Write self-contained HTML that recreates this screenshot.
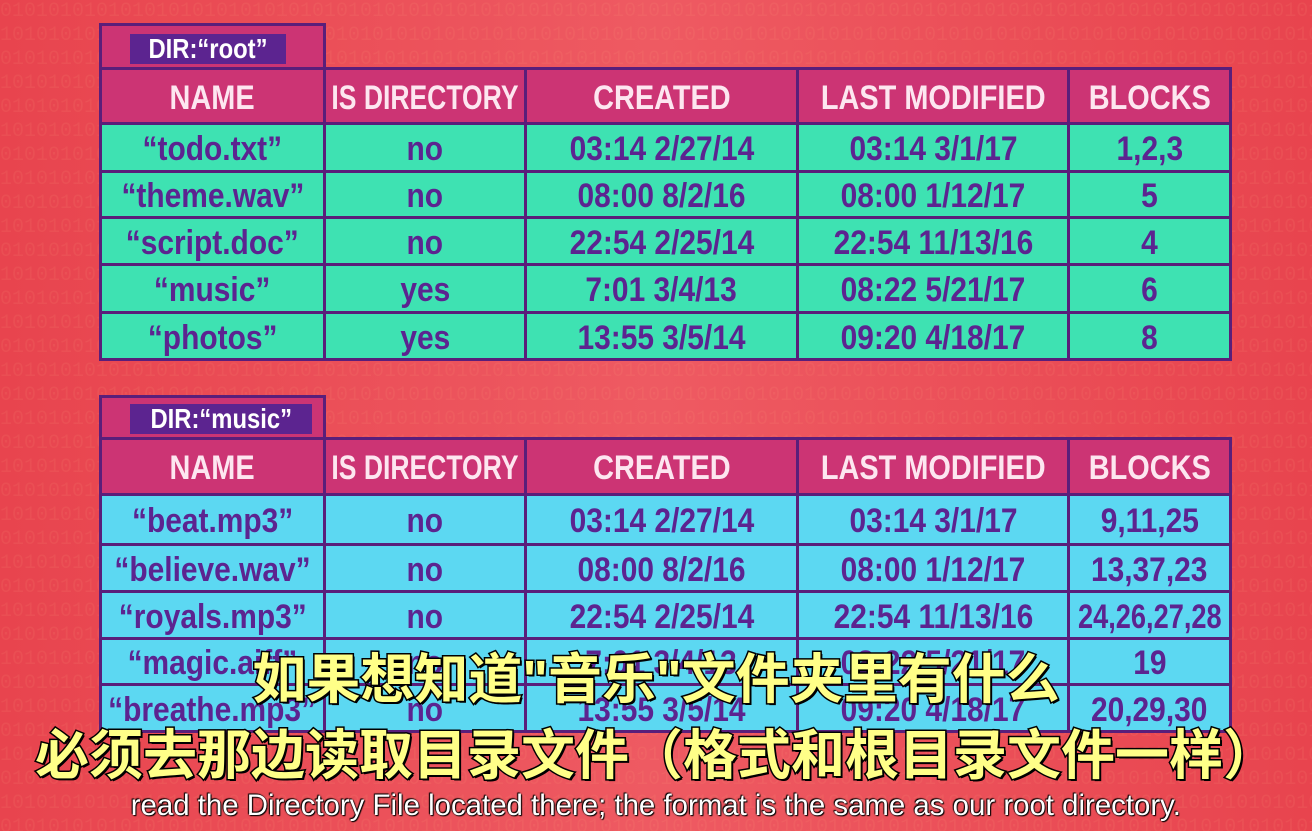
<!DOCTYPE html>
<html><head><meta charset="utf-8"><style>
body{margin:0;width:1312px;height:831px;overflow:hidden;background:linear-gradient(90deg,#e8444e 0%,#ee5a62 50%,#e8444e 100%);position:relative;font-family:"Liberation Sans",sans-serif}
.bg{position:absolute;left:0;top:0;width:1312px;height:831px;color:rgba(255,160,120,.12);font:20px "Liberation Mono",monospace;line-height:24px;white-space:pre;overflow:hidden}
.tab{position:absolute;background:#cc3474;border:3px solid #5a1e7a;box-sizing:border-box}
.tab span{position:absolute;left:28px;top:8px;background:#5c2490;color:#fff;font-weight:bold;font-size:28px;padding:0 8px;line-height:30px;white-space:nowrap}
table{position:absolute;left:99px;border-collapse:collapse;width:1130px;table-layout:fixed}
td,th{border:3px solid #5a1e7a;text-align:center;font-weight:bold;padding:4px 0 0;font-size:34px;color:#5c2490;white-space:nowrap;overflow:hidden}
td i,th i,.tab i{font-style:normal;display:inline-block;transform:scaleX(.85)}
td i,th i{margin:0 -80px}
td i{transform:scaleX(.88)}
th{background:#cc3474;color:#fde6f0}
.g td{background:#3ee2b2}
.b td{background:#5cd8f2}
.sub{position:absolute;left:0;width:1312px;text-align:center;font-family:"Liberation Sans","Noto Sans CJK SC",sans-serif;font-weight:bold;color:#ffff88;font-size:54px;line-height:60px;-webkit-text-stroke:3px #000;paint-order:stroke fill;text-shadow:2px 2px 0 #000;white-space:nowrap}
.en{position:absolute;left:0;width:1312px;text-align:center;top:789px;font-family:"Liberation Sans",sans-serif;font-size:30px;color:#fff;text-shadow:0 0 2px #000,1px 1px 1px #000,-1px -1px 1px #000;white-space:nowrap}
.en i{font-style:normal;display:inline-block;transform:scaleX(.98)}
</style></head><body>
<div class="bg">0101010101010101010101010101010101010101010101010101010101010101010101010101010101010101010101010101010101010101
1010101010101010101010101010101010101010101010101010101010101010101010101010101010101010101010101010101010101010
0101010101010101010101010101010101010101010101010101010101010101010101010101010101010101010101010101010101010101
1010101010101010101010101010101010101010101010101010101010101010101010101010101010101010101010101010101010101010
0101010101010101010101010101010101010101010101010101010101010101010101010101010101010101010101010101010101010101
1010101010101010101010101010101010101010101010101010101010101010101010101010101010101010101010101010101010101010
0101010101010101010101010101010101010101010101010101010101010101010101010101010101010101010101010101010101010101
1010101010101010101010101010101010101010101010101010101010101010101010101010101010101010101010101010101010101010
0101010101010101010101010101010101010101010101010101010101010101010101010101010101010101010101010101010101010101
1010101010101010101010101010101010101010101010101010101010101010101010101010101010101010101010101010101010101010
0101010101010101010101010101010101010101010101010101010101010101010101010101010101010101010101010101010101010101
1010101010101010101010101010101010101010101010101010101010101010101010101010101010101010101010101010101010101010
0101010101010101010101010101010101010101010101010101010101010101010101010101010101010101010101010101010101010101
1010101010101010101010101010101010101010101010101010101010101010101010101010101010101010101010101010101010101010
0101010101010101010101010101010101010101010101010101010101010101010101010101010101010101010101010101010101010101
1010101010101010101010101010101010101010101010101010101010101010101010101010101010101010101010101010101010101010
0101010101010101010101010101010101010101010101010101010101010101010101010101010101010101010101010101010101010101
1010101010101010101010101010101010101010101010101010101010101010101010101010101010101010101010101010101010101010
0101010101010101010101010101010101010101010101010101010101010101010101010101010101010101010101010101010101010101
1010101010101010101010101010101010101010101010101010101010101010101010101010101010101010101010101010101010101010
0101010101010101010101010101010101010101010101010101010101010101010101010101010101010101010101010101010101010101
1010101010101010101010101010101010101010101010101010101010101010101010101010101010101010101010101010101010101010
0101010101010101010101010101010101010101010101010101010101010101010101010101010101010101010101010101010101010101
1010101010101010101010101010101010101010101010101010101010101010101010101010101010101010101010101010101010101010
0101010101010101010101010101010101010101010101010101010101010101010101010101010101010101010101010101010101010101
1010101010101010101010101010101010101010101010101010101010101010101010101010101010101010101010101010101010101010
0101010101010101010101010101010101010101010101010101010101010101010101010101010101010101010101010101010101010101
1010101010101010101010101010101010101010101010101010101010101010101010101010101010101010101010101010101010101010
0101010101010101010101010101010101010101010101010101010101010101010101010101010101010101010101010101010101010101
1010101010101010101010101010101010101010101010101010101010101010101010101010101010101010101010101010101010101010
0101010101010101010101010101010101010101010101010101010101010101010101010101010101010101010101010101010101010101
1010101010101010101010101010101010101010101010101010101010101010101010101010101010101010101010101010101010101010
0101010101010101010101010101010101010101010101010101010101010101010101010101010101010101010101010101010101010101
1010101010101010101010101010101010101010101010101010101010101010101010101010101010101010101010101010101010101010
0101010101010101010101010101010101010101010101010101010101010101010101010101010101010101010101010101010101010101</div>

<div class="tab" style="left:99px;top:23px;width:227px;height:48px"><span><i>DIR:“root”</i></span></div>
<table style="top:67px">
<colgroup><col style="width:224px"><col style="width:201px"><col style="width:272px"><col style="width:271px"><col style="width:162px"></colgroup>
<tr style="height:55px"><th><i>NAME</i></th><th><i style="transform:scaleX(.78)">IS DIRECTORY</i></th><th><i>CREATED</i></th><th><i>LAST MODIFIED</i></th><th><i>BLOCKS</i></th></tr>
<tr class="g" style="height:48px"><td><i>“todo.txt”</i></td><td><i>no</i></td><td><i>03:14 2/27/14</i></td><td><i>03:14 3/1/17</i></td><td><i>1,2,3</i></td></tr>
<tr class="g" style="height:46px"><td><i>“theme.wav”</i></td><td><i>no</i></td><td><i>08:00 8/2/16</i></td><td><i>08:00 1/12/17</i></td><td><i>5</i></td></tr>
<tr class="g" style="height:47px"><td><i>“script.doc”</i></td><td><i>no</i></td><td><i>22:54 2/25/14</i></td><td><i>22:54 11/13/16</i></td><td><i>4</i></td></tr>
<tr class="g" style="height:48px"><td><i>“music”</i></td><td><i>yes</i></td><td><i>7:01 3/4/13</i></td><td><i>08:22 5/21/17</i></td><td><i>6</i></td></tr>
<tr class="g" style="height:47px"><td><i>“photos”</i></td><td><i>yes</i></td><td><i>13:55 3/5/14</i></td><td><i>09:20 4/18/17</i></td><td><i>8</i></td></tr>
</table>

<div class="tab" style="left:99px;top:395px;width:227px;height:45px"><span style="top:6px"><i>DIR:“music”</i></span></div>
<table style="top:437px">
<colgroup><col style="width:224px"><col style="width:201px"><col style="width:272px"><col style="width:271px"><col style="width:162px"></colgroup>
<tr style="height:56px"><th><i>NAME</i></th><th><i style="transform:scaleX(.78)">IS DIRECTORY</i></th><th><i>CREATED</i></th><th><i>LAST MODIFIED</i></th><th><i>BLOCKS</i></th></tr>
<tr class="b" style="height:50px"><td><i>“beat.mp3”</i></td><td><i>no</i></td><td><i>03:14 2/27/14</i></td><td><i>03:14 3/1/17</i></td><td><i>9,11,25</i></td></tr>
<tr class="b" style="height:47px"><td><i>“believe.wav”</i></td><td><i>no</i></td><td><i>08:00 8/2/16</i></td><td><i>08:00 1/12/17</i></td><td><i>13,37,23</i></td></tr>
<tr class="b" style="height:47px"><td><i>“royals.mp3”</i></td><td><i>no</i></td><td><i>22:54 2/25/14</i></td><td><i>22:54 11/13/16</i></td><td><i style="transform:scaleX(.8)">24,26,27,28</i></td></tr>
<tr class="b" style="height:46px"><td><i>“magic.aiff”</i></td><td><i>no</i></td><td><i>7:01 3/4/13</i></td><td><i>08:22 5/21/17</i></td><td><i>19</i></td></tr>
<tr class="b" style="height:47px"><td><i>“breathe.mp3”</i></td><td><i>no</i></td><td><i>13:55 3/5/14</i></td><td><i>09:20 4/18/17</i></td><td><i>20,29,30</i></td></tr>
</table>

<div class="sub" style="top:650px">如果想知道"音乐"文件夹里有什么</div>
<div class="sub" style="top:726px">必须去那边读取目录文件（格式和根目录文件一样）</div>
<div class="en"><i>read the Directory File located there; the format is the same as our root directory.</i></div>
</body></html>
